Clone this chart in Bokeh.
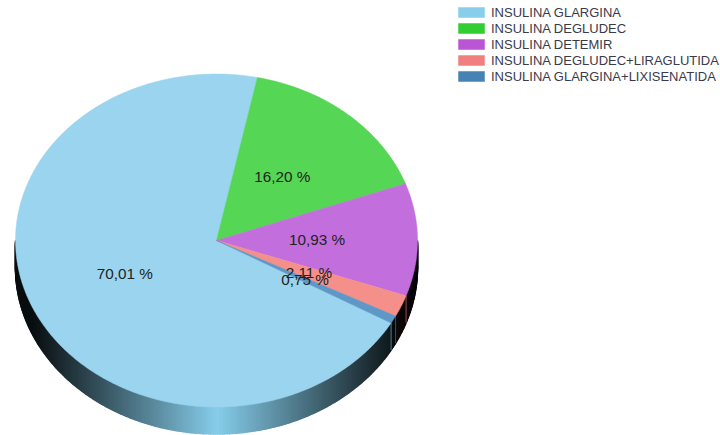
import numpy as np
from bokeh.core.properties import value
from bokeh.embed import file_html
from bokeh.models import Range1d
from bokeh.plotting import figure
from bokeh.resources import INLINE

categories = ["INSULINA GLARGINA", "INSULINA DEGLUDEC", "INSULINA DETEMIR",
              "INSULINA DEGLUDEC+LIRAGLUTIDA", "INSULINA GLARGINA+LIXISENATIDA"]
shares = [70.01, 16.20, 10.93, 2.11, 0.75]
share_labels = ["70,01 %", "16,20 %", "10,93 %", "2,11 %", "0,75 %"]
legend_colors = ["#87ceeb", "#32cd32", "#ba55d3", "#f08080", "#4682b4"]
top_colors = ["#9bd4ef", "#55d655", "#c36edd", "#f58f8a", "#5f97c6"]

CX, CY, RX, RY, DEPTH = 216.0, 240.0, 201.0, 166.5, 27.0
START = 119.7  # degrees clockwise from the top


def px(a):
    return CX + RX * np.sin(np.radians(a))


def py(a):
    return CY - RY * np.cos(np.radians(a))


def shade(hex_color, factor):
    rgb = [int(hex_color[i:i + 2], 16) for i in (1, 3, 5)]
    return "#%02x%02x%02x" % tuple(int(c * factor) for c in rgb)


p = figure(width=720, height=435, output_backend="svg", toolbar_location=None,
           x_range=Range1d(0, 720), y_range=Range1d(435, 0),
           min_border=0, margin=0)
p.axis.visible = False
p.grid.visible = False
p.outline_line_color = None
p.background_fill_color = "white"
p.border_fill_color = "white"

sweeps = np.array(shares) / sum(shares) * 360.0
starts = START + np.concatenate([[0], np.cumsum(sweeps)[:-1]])
ends = starts + sweeps

# side wall: narrow shaded strips of the lower half of the rim
xs, ys, cols = [], [], []
seams_x0, seams_y0, seams_y1, seam_cols = [], [], [], []
for s, e, c in zip(starts, ends, legend_colors):
    for shift in (0.0, 360.0):
        lo, hi = max(s - shift, 90.0), min(e - shift, 270.0)
        if hi <= lo:
            continue
        steps = max(1, int((hi - lo) / 0.5))
        grid = np.linspace(lo, hi, steps + 1)
        for a0, a1 in zip(grid[:-1], grid[1:]):
            mid = (a0 + a1) / 2
            t = abs(np.sin(np.radians(mid)))
            f = max(0.07, (1 - t) ** 1.05)
            if c != legend_colors[0]:
                f *= 0.75
            xs.append([px(a0), px(a1), px(a1), px(a0)])
            ys.append([py(a0), py(a1), py(a1) + DEPTH, py(a0) + DEPTH])
            cols.append(shade(c, f))
        if lo > 90.0:
            seams_x0.append(px(lo))
            seams_y0.append(py(lo))
            seams_y1.append(py(lo) + DEPTH)
            seam_cols.append(c)
p.patches(xs, ys, fill_color=cols, line_color=cols, line_width=1.5)
p.segment(seams_x0, seams_y0, seams_x0, seams_y1, line_color=seam_cols, line_alpha=0.6, line_width=1)

# top face
for s, e, c in zip(starts, ends, top_colors):
    grid = np.linspace(s, e, max(3, int((e - s) * 2)))
    p.patch(np.r_[CX, px(grid)], np.r_[CY, py(grid)], fill_color=c, line_color=c, line_width=0.5)

# percentage labels at half radius of each slice
mids = (starts + ends) / 2
p.text(CX + 0.5 * RX * np.sin(np.radians(mids)), CY - 0.5 * RY * np.cos(np.radians(mids)),
       text=share_labels, text_font=value("Liberation Sans"), text_font_size="15.3px",
       text_color="#222222", text_align="center", text_baseline="middle", y_offset=-1)

# legend
rows = 12 + 16 * np.arange(len(categories))
p.quad(left=458, right=484, top=rows - 5, bottom=rows + 5, fill_color=legend_colors, line_color=legend_colors, line_width=0.5)
p.text(490.5, rows, text=categories, text_font=value("Liberation Sans"), text_font_size="13px",
       text_color="#3a3a4a", text_align="left", text_baseline="middle")

open("out.html", "w").write(file_html(p, INLINE))
